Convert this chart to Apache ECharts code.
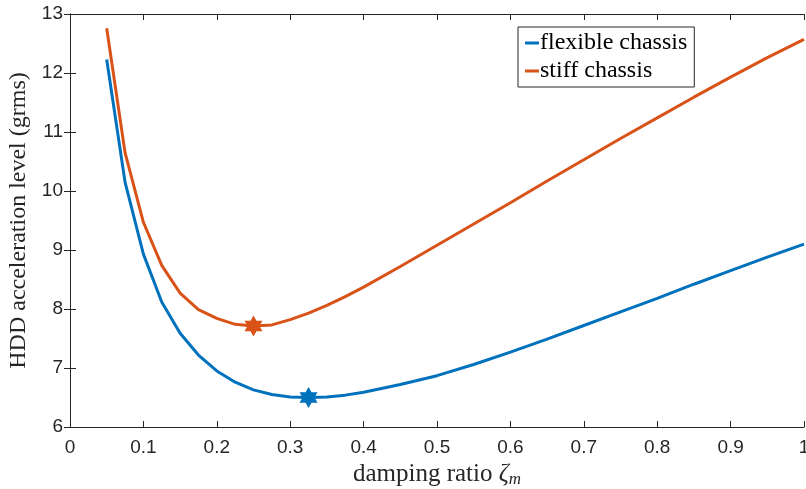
<!DOCTYPE html>
<html>
<head>
<meta charset="utf-8">
<script src="https://cdn.jsdelivr.net/npm/echarts@6/dist/echarts.min.js"></script>
<style>html,body{margin:0;padding:0;background:#fff}#c{width:806px;height:489px}</style>
</head>
<body>
<div id="c"></div>
<script>
var zeta = [0.05,0.075,0.1,0.125,0.15,0.175,0.2,0.225,0.25,0.275,0.3,0.325,0.35,0.375,0.4,0.45,0.5,0.55,0.6,0.65,0.7,0.75,0.8,0.85,0.9,0.95,1.0];
var flexible = [12.23,10.15,8.93,8.12,7.59,7.22,6.95,6.76,6.63,6.55,6.51,6.50,6.51,6.54,6.59,6.72,6.87,7.06,7.27,7.49,7.72,7.95,8.18,8.42,8.65,8.88,9.1];
var stiff = [12.76,10.65,9.47,8.74,8.27,7.99,7.84,7.74,7.71,7.73,7.82,7.93,8.06,8.21,8.37,8.72,9.08,9.44,9.8,10.17,10.53,10.89,11.24,11.59,11.93,12.26,12.57];
var seriesNames = ['flexible chassis','stiff chassis'];
var minZeta = [0.325, 0.25];
var minVal = [6.50, 7.71];
var colors = ['#0072BD','#D95319'];

function pairs(xs, ys){ return xs.map(function(x,i){return [x, ys[i]];}); }
var star = 'path://M0,-10 L2.887,-5 L8.66,-5 L5.774,0 L8.66,5 L2.887,5 L0,10 L-2.887,5 L-8.66,5 L-5.774,0 L-8.66,-5 L-2.887,-5 Z';
var axisCol = '#262626';
var serif = 'Liberation Serif, Times New Roman, serif';
var chart = echarts.init(document.getElementById('c'));
var tickFont = {fontFamily:'Liberation Sans, Arial, sans-serif', fontSize:19, color:'#262626'};
chart.setOption({
  animation:false,
  grid:{left:70, right:2, top:14, bottom:62, containLabel:false, outerBoundsMode:'none'},
  legend:{
    data:seriesNames, orient:'vertical', left:518, top:27,
    icon:'rect', itemWidth:14, itemHeight:3, itemGap:4,
    borderColor:axisCol, borderWidth:1, backgroundColor:'#fff',
    padding:[4,7,4,7],
    textStyle:{fontFamily:serif, fontSize:24, color:'#000', padding:[0,0,0,-4]}
  },
  xAxis:[{
    type:'value', min:0, max:1, interval:0.1,
    axisLine:{lineStyle:{color:axisCol}}, axisTick:{inside:true, length:6, lineStyle:{color:axisCol}},
    splitLine:{show:false},
    axisLabel:Object.assign({margin:11}, tickFont),
    name:'{a|damping ratio }{b|ζ}{c|m}', nameLocation:'middle', nameGap:32,
    nameTextStyle:{rich:{
      a:{fontFamily:serif, fontSize:25, color:'#262626'},
      b:{fontFamily:serif, fontSize:25, fontStyle:'italic', color:'#262626'},
      c:{fontFamily:serif, fontSize:17, fontStyle:'italic', color:'#262626', padding:[10,0,0,0]}
    }}
  },{
    type:'value', min:0, max:1, interval:0.1, position:'top',
    axisLine:{show:true, lineStyle:{color:axisCol}}, axisTick:{inside:true, length:6, lineStyle:{color:axisCol}},
    axisLabel:{show:false}, splitLine:{show:false}
  }],
  yAxis:[{
    type:'value', min:6, max:13, interval:1,
    axisLine:{show:true, lineStyle:{color:axisCol}}, axisTick:{show:true, inside:true, length:6, lineStyle:{color:axisCol}},
    splitLine:{show:false},
    axisLabel:Object.assign({margin:7}, tickFont),
    name:'HDD acceleration level (grms)', nameLocation:'middle', nameGap:30,
    nameTextStyle:{fontFamily:serif, fontSize:24, color:'#262626'}
  },{
    type:'value', min:6, max:13, interval:1, position:'right',
    axisLine:{show:true, lineStyle:{color:axisCol}}, axisTick:{show:true, inside:true, length:6, lineStyle:{color:axisCol}},
    axisLabel:{show:false}, splitLine:{show:false}
  }],
  series:[
    {name:seriesNames[0], type:'line', data:pairs(zeta, flexible), showSymbol:false, symbol:'none',
     lineStyle:{color:colors[0], width:3}, itemStyle:{color:colors[0]}},
    {name:seriesNames[1], type:'line', data:pairs(zeta, stiff), showSymbol:false, symbol:'none',
     lineStyle:{color:colors[1], width:3}, itemStyle:{color:colors[1]}},
    {name:'min', type:'scatter', symbol:star, symbolSize:[18,21], z:5,
     itemStyle:{opacity:1},
     data:[{value:[minZeta[0],minVal[0]], itemStyle:{color:colors[0], opacity:1}},
           {value:[minZeta[1],minVal[1]], itemStyle:{color:colors[1], opacity:1}}]}
  ]
});
</script>
</body>
</html>
